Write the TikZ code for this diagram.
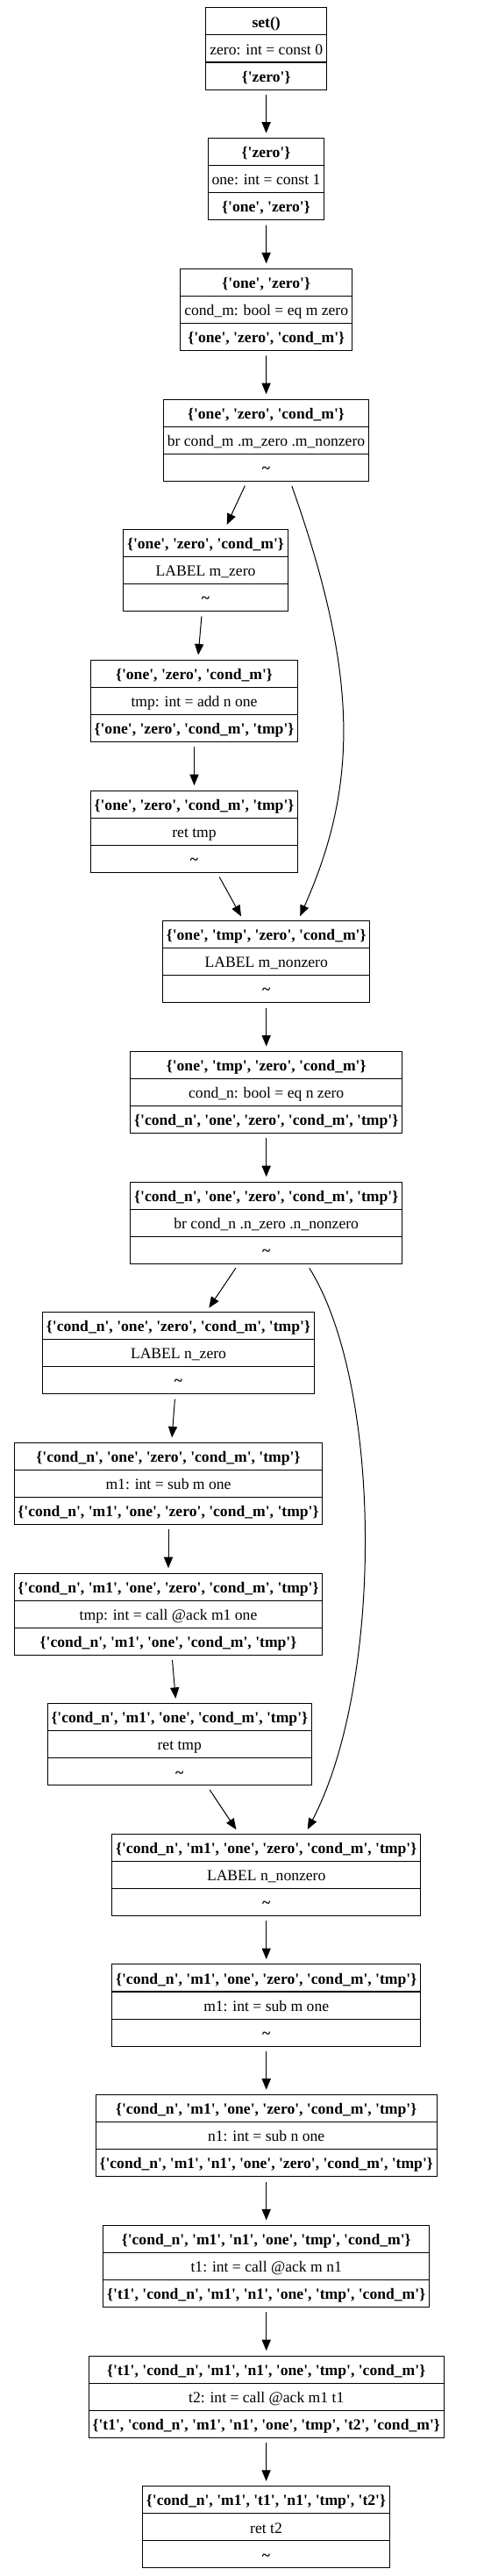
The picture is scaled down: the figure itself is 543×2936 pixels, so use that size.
\documentclass[tikz,border=0pt]{standalone}
\usepackage{fontspec}
\setmainfont{Liberation Serif}[Ligatures=TeXOff]
\usetikzlibrary{shapes.multipart,arrows.meta}

\tikzset{
  blk/.style={draw, rectangle split, rectangle split parts=3, line width=0.8pt,
    inner xsep=3.3pt, inner ysep=3.35pt, font=\fontsize{13.2}{15.8}\selectfont},
  edge/.style={-{Triangle[length=9.4pt,width=7.6pt]}, line width=0.75pt,
    shorten >=4pt, shorten <=4pt},
}
\newcommand{\rs}{\rule[-2.9pt]{0pt}{15.8pt}}
\newcommand{\blkrows}[3]{\rs\textbf{#1}\nodepart{two}\rs #2\nodepart{three}\rs\textbf{#3}}
\newcommand{\tl}{\textasciitilde}

\begin{document}
\begin{tikzpicture}[x=0.75pt, y=-0.75pt]
    \useasboundingbox (0,0) rectangle (543,2936);
    % first function body: m
    \node[blk] (c0) at (303.7,55.5) {\blkrows{set()}{zero: int = const 0}{\{'zero'\}}};
    \node[blk] (c1) at (303.5,204.2) {\blkrows{\{'zero'\}}{one: int = const 1}{\{'one', 'zero'\}}};
    \node[blk] (eqm) at (303.7,352.9) {\blkrows{\{'one', 'zero'\}}{cond\_m: bool = eq m zero}{\{'one', 'zero', 'cond\_m'\}}};
    \node[blk] (brm) at (303.5,501.7) {\blkrows{\{'one', 'zero', 'cond\_m'\}}{br cond\_m .m\_zero .m\_nonzero}{\tl}};
    \node[blk] (mzero) at (234.5,650) {\blkrows{\{'one', 'zero', 'cond\_m'\}}{LABEL m\_zero}{\tl}};
    \node[blk] (addtmp) at (221.5,799) {\blkrows{\{'one', 'zero', 'cond\_m'\}}{tmp: int = add n one}{\{'one', 'zero', 'cond\_m', 'tmp'\}}};
    \node[blk] (rettmp) at (221.5,947.7) {\blkrows{\{'one', 'zero', 'cond\_m', 'tmp'\}}{ret tmp}{\tl}};
    \node[blk] (mnz) at (303.7,1096.2) {\blkrows{\{'one', 'tmp', 'zero', 'cond\_m'\}}{LABEL m\_nonzero}{\tl}};
    % branch on n
    \node[blk] (eqn) at (303.7,1245) {\blkrows{\{'one', 'tmp', 'zero', 'cond\_m'\}}{cond\_n: bool = eq n zero}{\{'cond\_n', 'one', 'zero', 'cond\_m', 'tmp'\}}};
    \node[blk] (brn) at (303.7,1393.7) {\blkrows{\{'cond\_n', 'one', 'zero', 'cond\_m', 'tmp'\}}{br cond\_n .n\_zero .n\_nonzero}{\tl}};
    \node[blk] (nzero) at (203.5,1542.2) {\blkrows{\{'cond\_n', 'one', 'zero', 'cond\_m', 'tmp'\}}{LABEL n\_zero}{\tl}};
    \node[blk] (subm) at (192,1690.9) {\blkrows{\{'cond\_n', 'one', 'zero', 'cond\_m', 'tmp'\}}{m1: int = sub m one}{\{'cond\_n', 'm1', 'one', 'zero', 'cond\_m', 'tmp'\}}};
    \node[blk] (calltmp) at (192,1839.7) {\blkrows{\{'cond\_n', 'm1', 'one', 'zero', 'cond\_m', 'tmp'\}}{tmp: int = call @ack m1 one}{\{'cond\_n', 'm1', 'one', 'cond\_m', 'tmp'\}}};
    \node[blk] (retn) at (204.8,1988.3) {\blkrows{\{'cond\_n', 'm1', 'one', 'cond\_m', 'tmp'\}}{ret tmp}{\tl}};
    \node[blk] (nnz) at (303.7,2136.9) {\blkrows{\{'cond\_n', 'm1', 'one', 'zero', 'cond\_m', 'tmp'\}}{LABEL n\_nonzero}{\tl}};
    \node[blk] (subm2) at (303.7,2285.5) {\blkrows{\{'cond\_n', 'm1', 'one', 'zero', 'cond\_m', 'tmp'\}}{m1: int = sub m one}{\tl}};
    \node[blk] (subn) at (303.7,2434.2) {\blkrows{\{'cond\_n', 'm1', 'one', 'zero', 'cond\_m', 'tmp'\}}{n1: int = sub n one}{\{'cond\_n', 'm1', 'n1', 'one', 'zero', 'cond\_m', 'tmp'\}}};
    \node[blk] (callt1) at (303.7,2582.9) {\blkrows{\{'cond\_n', 'm1', 'n1', 'one', 'tmp', 'cond\_m'\}}{t1: int = call @ack m n1}{\{'t1', 'cond\_n', 'm1', 'n1', 'one', 'tmp', 'cond\_m'\}}};
    \node[blk] (callt2) at (303.7,2731.7) {\blkrows{\{'t1', 'cond\_n', 'm1', 'n1', 'one', 'tmp', 'cond\_m'\}}{t2: int = call @ack m1 t1}{\{'t1', 'cond\_n', 'm1', 'n1', 'one', 'tmp', 't2', 'cond\_m'\}}};
    \node[blk] (rett2) at (303.5,2880.3) {\blkrows{\{'cond\_n', 'm1', 't1', 'n1', 'tmp', 't2'\}}{ret t2}{\tl}};
    % edges
    \draw[edge] (c0) -- (c1);
    \draw[edge] (c1) -- (eqm);
    \draw[edge] (eqm) -- (brm);
    \draw[edge] (brm) -- (mzero);
    \draw[edge] (mzero) -- (addtmp);
    \draw[edge] (addtmp) -- (rettmp);
    \draw[edge] (rettmp) -- (mnz);
    \draw[edge] ([xshift=27.5*0.75pt]brm.south) .. controls +(78,220) and +(69,-155) .. ([xshift=36.3*0.75pt]mnz.north);
    \draw[edge] (mnz) -- (eqn);
    \draw[edge] (eqn) -- (brn);
    \draw[edge] (brn) -- (nzero);
    \draw[edge] (nzero) -- (subm);
    \draw[edge] (subm) -- (calltmp);
    \draw[edge] (calltmp) -- (retn);
    \draw[edge] (retn) -- (nnz);
    \draw[edge] ([xshift=46.3*0.75pt]brn.south) .. controls +(87,139) and +(89,-170) .. ([xshift=44.6*0.75pt]nnz.north);
    \draw[edge] (nnz) -- (subm2);
    \draw[edge] (subm2) -- (subn);
    \draw[edge] (subn) -- (callt1);
    \draw[edge] (callt1) -- (callt2);
    \draw[edge] (callt2) -- (rett2);
\end{tikzpicture}
\end{document}
